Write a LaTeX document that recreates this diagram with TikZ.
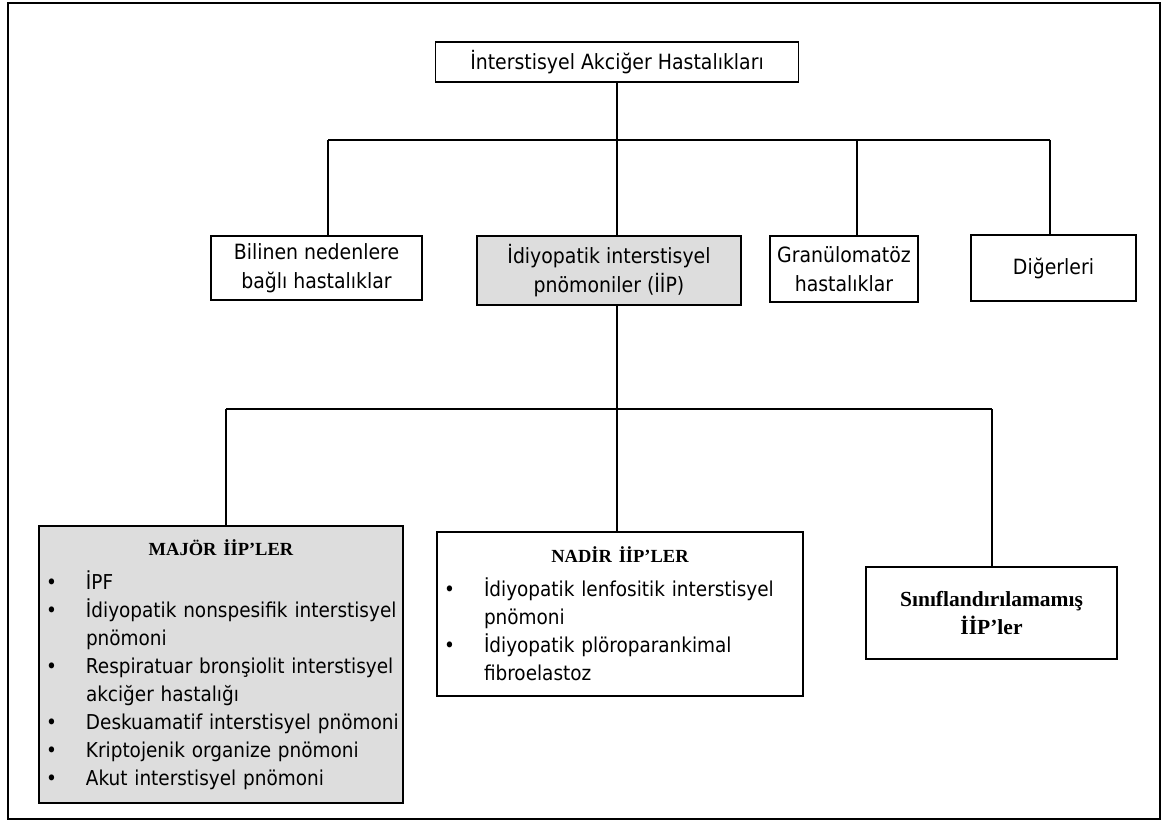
\documentclass[tikz,border=0pt]{standalone}
\usepackage{fontspec}
\setmainfont{DejaVu Sans Condensed}
\newfontfamily\headfont{Liberation Serif}
\usetikzlibrary{positioning}
\definecolor{boxgray}{RGB}{221,221,221}

\newlength\bind
\setlength\bind{40pt}
\newcommand\itm[1]{\par\noindent\makebox[\bind][l]{\textbullet}\mbox{#1}}
\newcommand\cnt[1]{\par\noindent\hspace*{\bind}\mbox{#1}}

\begin{document}
\begin{tikzpicture}[x=1pt,y=-1pt,
    line width=1.1pt,
    box/.style={draw,line width=1.3pt,inner sep=0pt,align=center,
      font=\fontsize{21}{29}\selectfont},
    listbox/.style={draw,line width=1.3pt,inner xsep=7pt,inner ysep=0pt,
      font=\fontsize{20.5}{28}\selectfont},
    shaded/.style={fill=boxgray}]
    \useasboundingbox (0,0) rectangle (1165,832);
    \draw[line width=1.2pt] (8,3) rectangle (1160,819);

    \node[box,minimum width=363pt,minimum height=40pt] (top) at (617,62) {İnterstisyel Akciğer Hastalıkları};
    \node[box,minimum width=211pt,minimum height=64pt] (bil) at (316.5,268) {Bilinen nedenlere\\bağlı hastalıklar};
    \node[box,shaded,minimum width=264pt,minimum height=69pt] (iip) at (609,270.5) {İdiyopatik interstisyel\\pnömoniler (İİP)};
    \node[box,minimum width=148pt,minimum height=66pt] (gra) at (844,269) {Granülomatöz\\hastalıklar};
    \node[box,minimum width=165pt,minimum height=66pt] (dig) at (1053.5,268) {Diğerleri};

    \node[listbox,shaded,minimum width=364pt,minimum height=277pt,text width=350pt] (maj) at (221,664.5) {%
      {\centering\headfont\bfseries\fontsize{18.5}{28}\selectfont MAJÖR İİP’LER\par}\vspace{6pt}
      \itm{İPF}
      \itm{İdiyopatik nonspesifik interstisyel}
      \cnt{pnömoni}
      \itm{Respiratuar bronşiolit interstisyel}
      \cnt{akciğer hastalığı}
      \itm{Deskuamatif interstisyel pnömoni}
      \itm{Kriptojenik organize pnömoni}
      \itm{Akut interstisyel pnömoni}};
    \node[listbox,minimum width=366pt,minimum height=164pt,text width=352pt] (nad) at (620,614) {%
      {\centering\headfont\bfseries\fontsize{18.5}{28}\selectfont NADİR İİP’LER\par}\vspace{6pt}
      \itm{İdiyopatik lenfositik interstisyel}
      \cnt{pnömoni}
      \itm{İdiyopatik plöroparankimal}
      \cnt{fibroelastoz}};
    \node[box,minimum width=251pt,minimum height=92pt,
      font=\headfont\bfseries\fontsize{21.5}{28}\selectfont] (sin) at (991.5,613) {Sınıflandırılamamış\\İİP’ler};

    % branch points
    \coordinate (j1) at (617,140);
    \coordinate (b1) at (328,140);
    \coordinate (b2) at (857,140);
    \coordinate (b3) at (1050,140);
    \coordinate (j2) at (617,409);
    \coordinate (c1) at (226,409);
    \coordinate (c3) at (992,409);

    \draw (top.south) -- (top.south |- j1);
    \draw (b1) -- (b3);
    \draw (b1) -- (b1 |- bil.north);
    \draw (j1) -- (j1 |- iip.north);
    \draw (b2) -- (b2 |- gra.north);
    \draw (b3) -- (b3 |- dig.north);

    \draw (iip.south -| j2) -- (j2);
    \draw (c1) -- (c3);
    \draw (c1) -- (c1 |- maj.north);
    \draw (j2) -- (j2 |- nad.north);
    \draw (c3) -- (c3 |- sin.north);
\end{tikzpicture}
\end{document}
